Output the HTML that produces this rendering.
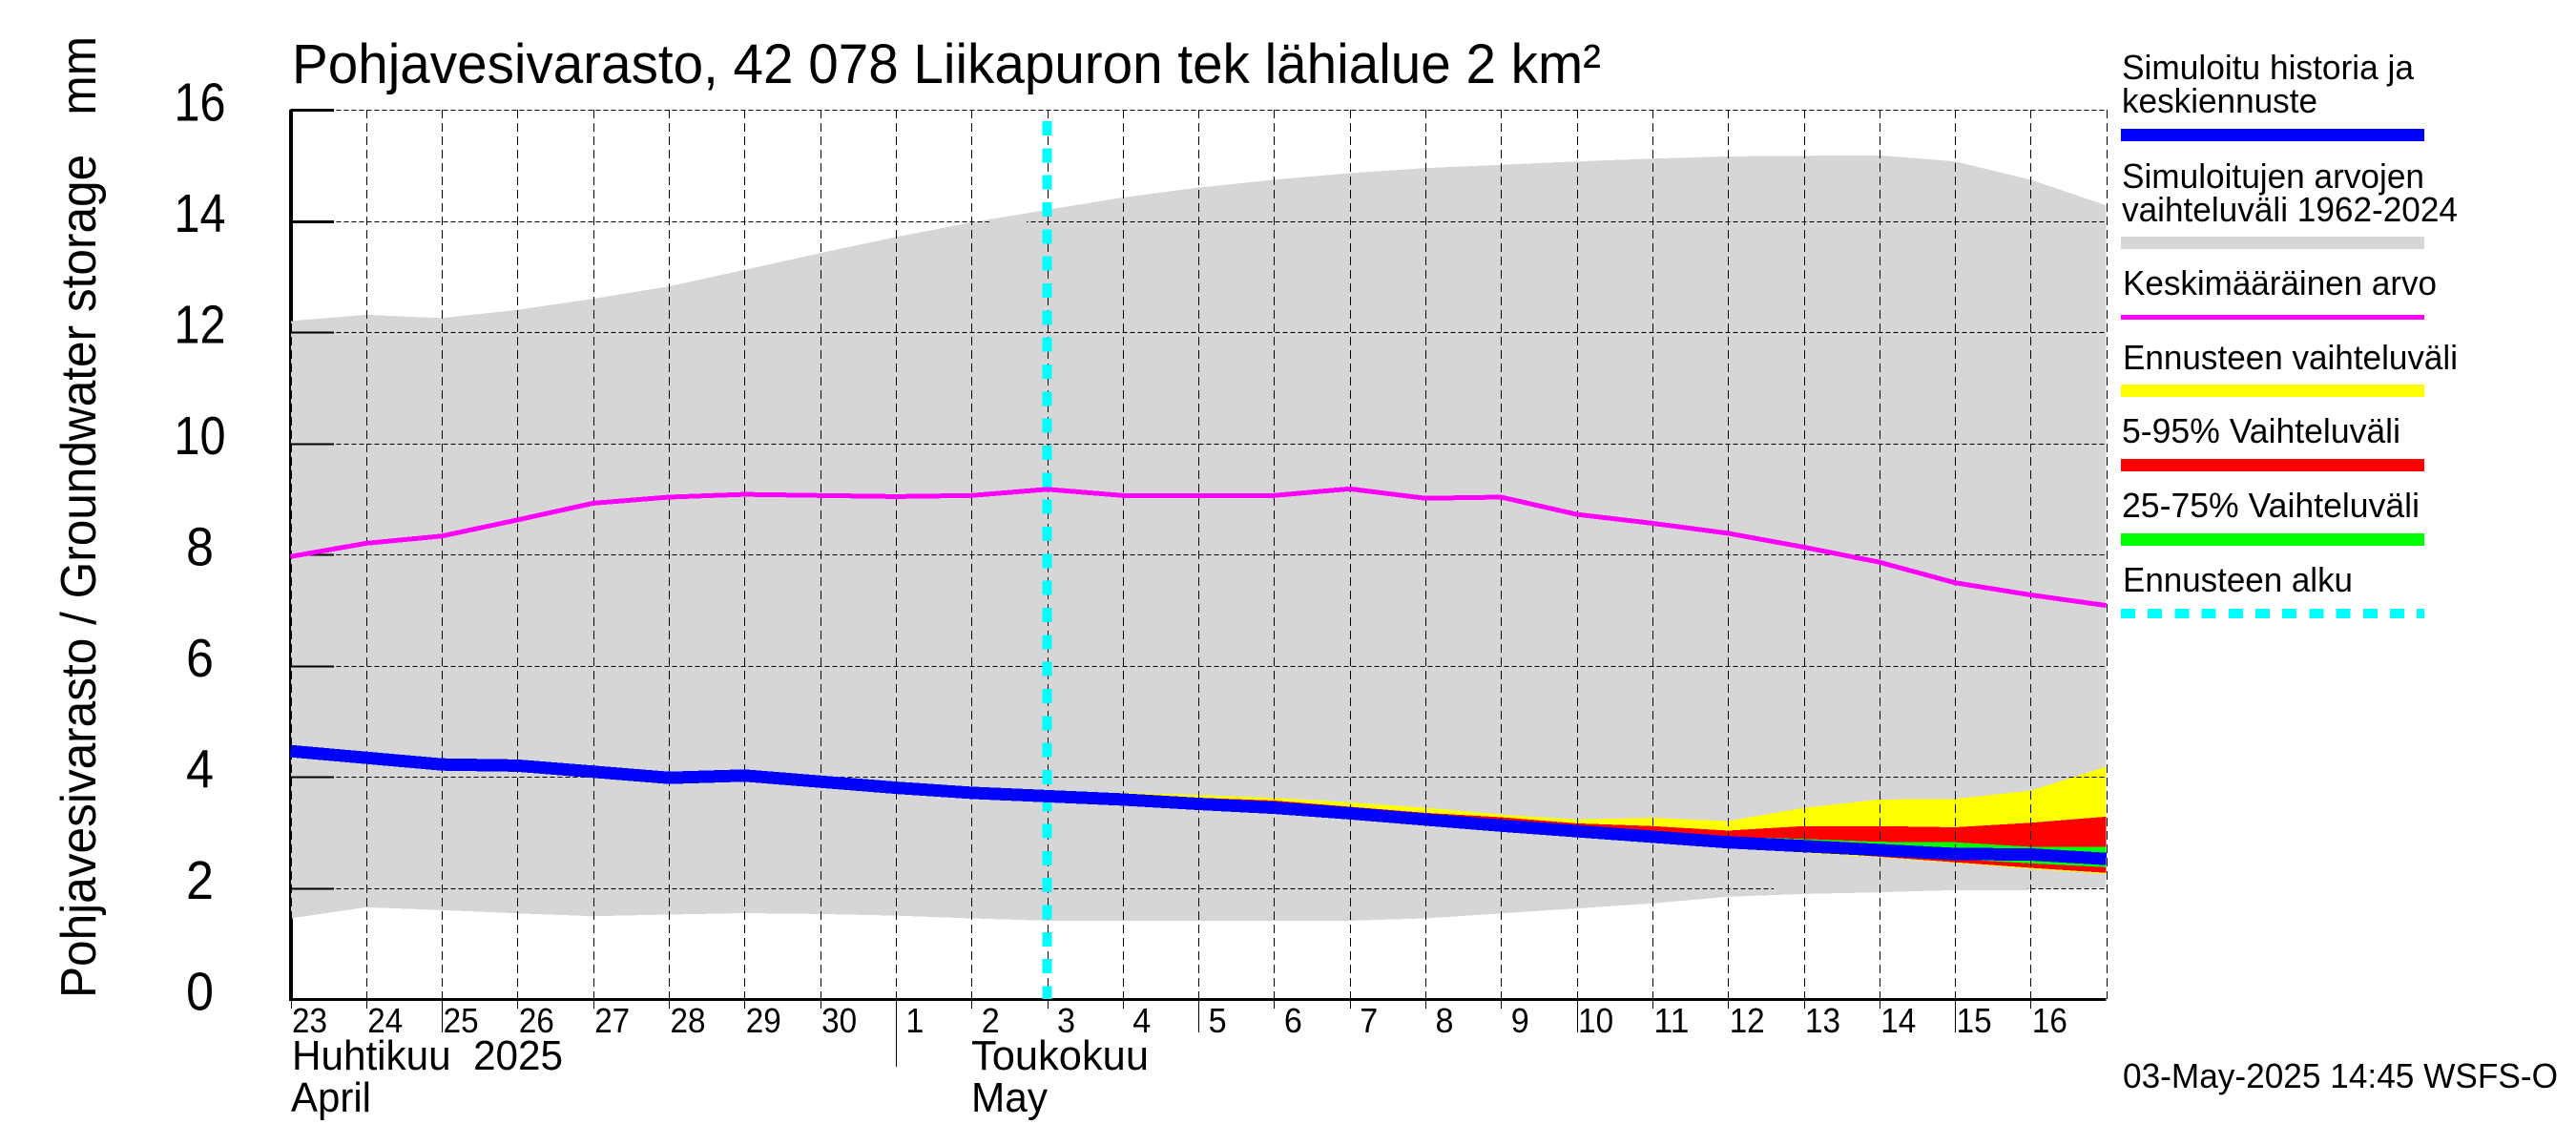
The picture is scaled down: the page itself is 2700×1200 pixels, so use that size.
<!DOCTYPE html>
<html lang="fi">
<head>
<meta charset="utf-8">
<title>Pohjavesivarasto, 42 078 Liikapuron tek lähialue 2 km²</title>
<style>
  html, body { margin: 0; padding: 0; background: #ffffff; }
  svg { display: block; }
  text { font-family: "Liberation Sans", sans-serif; fill: #000000; white-space: pre; }
</style>
</head>
<body>
<svg id="chart" xmlns="http://www.w3.org/2000/svg" width="2700" height="1200" viewBox="0 0 2700 1200">
  <rect x="0" y="0" width="2700" height="1200" fill="#ffffff"/>
  <g id="plot" shape-rendering="crispEdges"></g>
  <g id="axis-labels"></g>

  <text x="306" y="87" font-size="58" textLength="1372" lengthAdjust="spacingAndGlyphs">Pohjavesivarasto, 42 078 Liikapuron tek lähialue 2 km²</text>
  <text transform="translate(100 1046) rotate(-90)" x="0" y="0" font-size="52" textLength="1008" lengthAdjust="spacingAndGlyphs">Pohjavesivarasto / Groundwater storage   mm</text>

  <text x="306" y="1121" font-size="44" textLength="284" lengthAdjust="spacingAndGlyphs">Huhtikuu  2025</text>
  <text x="305" y="1165" font-size="44" textLength="84" lengthAdjust="spacingAndGlyphs">April</text>
  <text x="1018" y="1121" font-size="44" textLength="186" lengthAdjust="spacingAndGlyphs">Toukokuu</text>
  <text x="1018" y="1165" font-size="44" textLength="80" lengthAdjust="spacingAndGlyphs">May</text>

  <text x="2225" y="1140" font-size="36" textLength="456" lengthAdjust="spacingAndGlyphs">03-May-2025 14:45 WSFS-O</text>

  <g shape-rendering="crispEdges">
    <g>
      <text x="2224" y="83" font-size="36" textLength="306" lengthAdjust="spacingAndGlyphs">Simuloitu historia ja</text>
      <text x="2224" y="118" font-size="36" textLength="205" lengthAdjust="spacingAndGlyphs">keskiennuste</text>
      <rect x="2223" y="135" width="318" height="13" fill="#0000ff"/>
    </g>
    <g>
      <text x="2224" y="197" font-size="36" textLength="317" lengthAdjust="spacingAndGlyphs">Simuloitujen arvojen</text>
      <text x="2224" y="232" font-size="36" textLength="352" lengthAdjust="spacingAndGlyphs">vaihteluväli 1962-2024</text>
      <rect x="2223" y="248" width="318" height="13" fill="#d6d6d6"/>
    </g>
    <g>
      <text x="2225" y="309" font-size="36" textLength="329" lengthAdjust="spacingAndGlyphs">Keskimääräinen arvo</text>
      <rect x="2223" y="330" width="318" height="5" fill="#ff00ff"/>
    </g>
    <g>
      <text x="2225" y="387" font-size="36" textLength="351" lengthAdjust="spacingAndGlyphs">Ennusteen vaihteluväli</text>
      <rect x="2223" y="403" width="318" height="13" fill="#ffff00"/>
    </g>
    <g>
      <text x="2224" y="464" font-size="36" textLength="292" lengthAdjust="spacingAndGlyphs">5-95% Vaihteluväli</text>
      <rect x="2223" y="481" width="318" height="13" fill="#ff0000"/>
    </g>
    <g>
      <text x="2224" y="542" font-size="36" textLength="312" lengthAdjust="spacingAndGlyphs">25-75% Vaihteluväli</text>
      <rect x="2223" y="559" width="318" height="13" fill="#00ff00"/>
    </g>
    <g>
      <text x="2225" y="620" font-size="36" textLength="241" lengthAdjust="spacingAndGlyphs">Ennusteen alku</text>
      <line x1="2223" y1="643" x2="2541" y2="643" stroke="#00ffff" stroke-width="10" stroke-dasharray="15 13.2"/>
    </g>
  </g>
</svg>

<script>
// Chart data (values in mm, one per day from 23 April)
const dayLabels = ["23","24","25","26","27","28","29","30","1","2","3","4","5","6","7","8","9","10","11","12","13","14","15","16"];
const yTickLabels = [0, 2, 4, 6, 8, 10, 12, 14, 16];
const rangeMax = [12.2,12.31,12.25,12.4,12.6,12.82,13.12,13.42,13.71,13.97,14.2,14.42,14.6,14.74,14.86,14.95,15.01,15.07,15.12,15.16,15.17,15.18,15.07,14.74,14.28];
const rangeMin = [1.45,1.65,1.6,1.54,1.49,1.52,1.545,1.53,1.5,1.45,1.41,1.41,1.41,1.41,1.41,1.45,1.54,1.63,1.72,1.84,1.89,1.92,1.96,1.98,2.0];
const meanValue = [7.96,8.2,8.33,8.62,8.92,9.03,9.08,9.06,9.04,9.06,9.17,9.06,9.06,9.06,9.18,9.01,9.03,8.72,8.56,8.38,8.13,7.86,7.49,7.27,7.08];
const simulated = [4.46,4.34,4.22,4.2,4.09,3.98,4.02,3.91,3.8,3.71,3.65,3.59,3.51,3.44,3.34,3.23,3.12,3.02,2.92,2.82,2.75,2.68,2.61,2.6,2.52];
// Forecast bands begin on the forecast start day (index 10)
const forecastStartIndex = 10;
const forecastMaxValues = [3.65,3.71,3.67,3.62,3.54,3.44,3.32,3.23,3.26,3.2,3.44,3.59,3.6,3.75,4.18];
const forecastMinValues = [3.65,3.58,3.5,3.42,3.32,3.2,3.08,2.98,2.86,2.74,2.63,2.55,2.45,2.34,2.25];
const p95Values = [3.65,3.66,3.62,3.57,3.46,3.35,3.27,3.16,3.11,3.03,3.11,3.11,3.09,3.17,3.28];
const p05Values = [3.65,3.59,3.51,3.43,3.33,3.21,3.09,2.99,2.87,2.75,2.66,2.56,2.46,2.36,2.27];
const p75Values = [3.65,3.6,3.54,3.46,3.36,3.25,3.14,3.04,2.96,2.92,2.88,2.83,2.82,2.74,2.74];
const p25Values = [3.65,3.58,3.5,3.42,3.32,3.22,3.1,3.0,2.9,2.8,2.72,2.63,2.52,2.44,2.37];
const longTickDays = ["25","5","10","15"];
const monthStartLabel = "1";

const NS = "http://www.w3.org/2000/svg";
const plot = document.getElementById("plot");
const axisLabels = document.getElementById("axis-labels");
const PLOT_LEFT = 304.5, PLOT_DAY = 79.3, PLOT_ZERO = 1047, PLOT_UNIT = 58.25;
const xScale = function (i) { return PLOT_LEFT + PLOT_DAY * i; };
const yScale = function (v) { return PLOT_ZERO - PLOT_UNIT * v; };
const lastIndex = rangeMax.length - 1;
const plotRight = xScale(lastIndex);
const plotTop = yScale(16);

function make(tag, attrs, parent) {
  const el = document.createElementNS(NS, tag);
  Object.keys(attrs).forEach(function (k) { el.setAttribute(k, attrs[k]); });
  parent.appendChild(el);
  return el;
}
function pts(values, offset) {
  return values.map(function (v, i) { return xScale(i + offset).toFixed(1) + "," + yScale(v).toFixed(1); });
}
function band(upper, lower, offset, fill) {
  const points = pts(upper, offset).concat(pts(lower, offset).reverse()).join(" ");
  return make("polygon", { points: points, fill: fill }, plot);
}

// Historical range
const rangeArea = band(rangeMax, rangeMin, 0, "#d6d6d6");



// Forecast bands
const forecastBand = band(forecastMaxValues, forecastMinValues, forecastStartIndex, "#ffff00");


const band595 = band(p95Values, p05Values, forecastStartIndex, "#ff0000");


const band2575 = band(p75Values, p25Values, forecastStartIndex, "#00ff00");



// Horizontal grid, ticks and labels
yTickLabels.forEach(function (v) {
  const y = Math.round(yScale(v)) + 0.5;
  if (v > 0) {
    const grid = make("line", { x1: PLOT_LEFT, y1: y, x2: plotRight, y2: y, stroke: "#000", "stroke-width": 1, "stroke-dasharray": "5 3" }, plot);
    
    
    const tick = make("line", { x1: PLOT_LEFT, y1: y, x2: 350, y2: y, stroke: "#000", "stroke-width": v >= 14 ? 3 : 2 }, plot);
    
    
  }
  const label = make("text", { x: 209.5, y: yScale(v) + 11.5, "font-size": 57, "text-anchor": "middle", textLength: String(v).length > 1 ? 54 : 29, lengthAdjust: "spacingAndGlyphs" }, axisLabels);
  label.textContent = String(v);
  
  
});

// Gaps where the reference grid lines are hidden
const gapUpper = make("rect", { x: 1037, y: yScale(14) - 1.5, width: 39, height: 4, fill: "#d6d6d6" }, plot);


const gapLower = make("rect", { x: 1859, y: yScale(2) - 1.5, width: 266, height: 4, fill: "#d6d6d6" }, plot);



// Vertical grid, ticks and labels
for (let i = 0; i <= lastIndex; i++) {
  const x = Math.round(xScale(i)) + 0.5;
  const grid = make("line", { x1: x, y1: plotTop, x2: x, y2: PLOT_ZERO, stroke: "#000", "stroke-width": 1, "stroke-dasharray": "9 5" }, plot);
  
  
  if (i < dayLabels.length) {
    const day = dayLabels[i];
    let end = 1057;
    if (longTickDays.indexOf(day) >= 0) { end = 1082; }
    if (day === monthStartLabel) { end = 1118; }
    const tick = make("line", { x1: x, y1: PLOT_ZERO, x2: x, y2: end, stroke: "#000", "stroke-width": 1 }, plot);
    
    
    const label = make("text", { x: xScale(i) + 20, y: 1082, "font-size": 36, "text-anchor": "middle", textLength: day.length > 1 ? 37 : 19, lengthAdjust: "spacingAndGlyphs" }, axisLabels);
    label.textContent = day;
    
    
  }
}

// Axes and frame
const leftAxis = make("rect", { x: 303, y: yScale(rangeMin[0]), width: 4, height: PLOT_ZERO - yScale(rangeMin[0]), fill: "#000" }, plot);


const leftAxisMid = make("rect", { x: 303, y: yScale(rangeMax[0]), width: 2, height: yScale(rangeMin[0]) - yScale(rangeMax[0]), fill: "#000" }, plot);


const leftAxisTop = make("rect", { x: 303, y: plotTop, width: 4, height: yScale(rangeMax[0]) - plotTop, fill: "#000" }, plot);


const topFrame = make("line", { x1: PLOT_LEFT, y1: Math.round(plotTop) + 0.5, x2: plotRight, y2: Math.round(plotTop) + 0.5, stroke: "#000", "stroke-width": 1, "stroke-dasharray": "5 3" }, plot);


const bottomAxis = make("rect", { x: 303, y: 1046, width: plotRight - 303, height: 3, fill: "#000" }, plot);



// Forecast start marker
const forecastStartX = xScale(forecastStartIndex);
const forecastLine = make("line", { x1: forecastStartX, y1: 127, x2: forecastStartX, y2: 1047, stroke: "#00ffff", "stroke-width": 10, "stroke-dasharray": "15 13.33" }, plot);



// Series lines
const simLine = make("polyline", { points: pts(simulated, 0).join(" "), fill: "none", stroke: "#0000ff", "stroke-width": 13, "stroke-linejoin": "round" }, plot);


const meanLine = make("polyline", { points: pts(meanValue, 0).join(" "), fill: "none", stroke: "#ff00ff", "stroke-width": 5, "stroke-linejoin": "round" }, plot);


</script>
</body>
</html>
